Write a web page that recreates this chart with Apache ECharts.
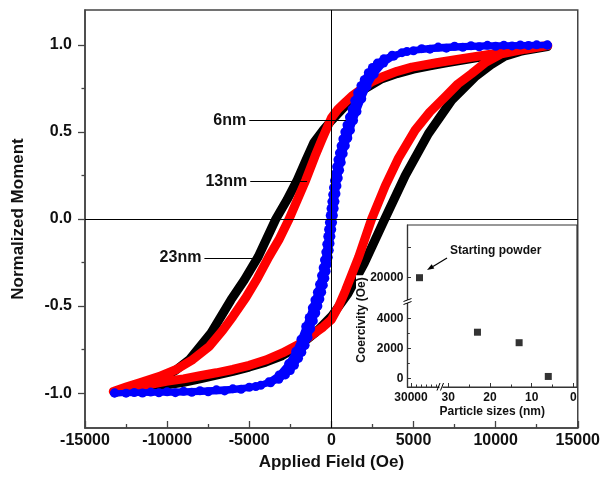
<!DOCTYPE html>
<html><head><meta charset="utf-8">
<script src="https://cdn.jsdelivr.net/npm/echarts@6/dist/echarts.min.js"></script>
<style>html,body{margin:0;padding:0;background:#fff}#c{width:603px;height:478px}</style>
</head><body><div id="c"></div>
<script>
// ---------- data ----------
// [field (Oe), normalized moment]
const black23Down = [[13150,0.99],[12000,0.972],[11000,0.956],[10000,0.943],[9000,0.929],[8000,0.913],[7000,0.897],[6000,0.88],[5000,0.86],[4000,0.835],[3000,0.802],[2000,0.745],[1000,0.665],[500,0.615],[0,0.565],[-500,0.51],[-1060,0.44],[-1560,0.335],[-2070,0.225],[-2700,0.11],[-3380,0.0],[-4450,-0.216],[-5300,-0.35],[-6110,-0.464],[-7320,-0.654],[-8640,-0.807],[-9500,-0.87],[-10500,-0.92],[-11500,-0.952],[-12400,-0.975],[-13200,-0.995]];
const black23Up = [[-13200,-0.997],[-12000,-0.98],[-11000,-0.965],[-10000,-0.952],[-9000,-0.938],[-8000,-0.918],[-7000,-0.897],[-6000,-0.875],[-5000,-0.85],[-4000,-0.822],[-3000,-0.785],[-2000,-0.73],[-1000,-0.655],[0,-0.56],[1000,-0.43],[2000,-0.255],[3250,0.0],[4500,0.25],[5910,0.49],[7320,0.681],[8740,0.815],[9700,0.885],[10560,0.935],[11500,0.962],[12400,0.98],[13150,0.99]];
const red13Down = [[13180,0.996],[12000,0.98],[10960,0.963],[9500,0.943],[7930,0.92],[6400,0.897],[4900,0.872],[4000,0.848],[3080,0.815],[2400,0.785],[1870,0.748],[1300,0.71],[860,0.672],[400,0.63],[0,0.58],[-560,0.46],[-1000,0.36],[-1560,0.223],[-2575,0.0],[-3200,-0.12],[-3800,-0.216],[-4500,-0.34],[-5200,-0.45],[-6000,-0.56],[-6620,-0.64],[-7420,-0.73],[-8440,-0.807],[-9440,-0.864],[-10500,-0.905],[-11670,-0.94],[-12500,-0.965],[-13280,-0.99]];
const red13Up = [[-13280,-0.99],[-12000,-0.965],[-11000,-0.95],[-10060,-0.932],[-9000,-0.918],[-8000,-0.9],[-7000,-0.883],[-6010,-0.864],[-5000,-0.84],[-4000,-0.81],[-2980,-0.769],[-2000,-0.72],[-1160,-0.665],[-500,-0.62],[0,-0.578],[450,-0.5],[860,-0.41],[1670,-0.216],[2450,0.0],[3280,0.19],[4090,0.35],[5100,0.51],[6000,0.615],[6920,0.7],[7700,0.775],[8530,0.834],[9400,0.9],[10350,0.948],[11800,0.975],[13180,0.996]];
const blue6Down = [[13150,0.998],[12000,0.996],[11000,0.994],[10000,0.992],[9000,0.989],[8000,0.986],[7000,0.981],[6000,0.975],[5000,0.966],[4300,0.955],[3700,0.94],[3200,0.92],[2800,0.895],[2500,0.87],[2250,0.84],[2000,0.8],[1800,0.765],[1600,0.725],[1420,0.68],[1260,0.63],[1100,0.585],[950,0.54],[820,0.5],[700,0.46],[590,0.42],[490,0.38],[400,0.34],[320,0.3],[250,0.26],[190,0.22],[130,0.18],[80,0.14],[30,0.1],[-20,0.06],[-70,0.02],[-120,-0.02],[-170,-0.06],[-220,-0.1],[-280,-0.145],[-340,-0.19],[-420,-0.235],[-500,-0.28],[-600,-0.325],[-720,-0.375],[-850,-0.42],[-1000,-0.465],[-1160,-0.51],[-1350,-0.565],[-1560,-0.617],[-1850,-0.69],[-2170,-0.76],[-2600,-0.83],[-3180,-0.895],[-3800,-0.935],[-4600,-0.962],[-5500,-0.978],[-6500,-0.987],[-7500,-0.992],[-8500,-0.995],[-9500,-0.997],[-10500,-0.998],[-11500,-0.999],[-12500,-1.0],[-13200,-1.0]];
const blue6Up = [[-13200,-0.998],[-12000,-0.996],[-11000,-0.994],[-10000,-0.992],[-9000,-0.989],[-8000,-0.986],[-7000,-0.981],[-6000,-0.975],[-5000,-0.966],[-4300,-0.955],[-3700,-0.94],[-3200,-0.92],[-2800,-0.895],[-2500,-0.87],[-2250,-0.84],[-2000,-0.8],[-1800,-0.765],[-1600,-0.725],[-1420,-0.68],[-1260,-0.63],[-1100,-0.585],[-950,-0.54],[-820,-0.5],[-700,-0.46],[-590,-0.42],[-490,-0.38],[-400,-0.34],[-320,-0.3],[-250,-0.26],[-190,-0.22],[-130,-0.18],[-80,-0.14],[-30,-0.1],[20,-0.06],[70,-0.02],[120,0.02],[170,0.06],[220,0.1],[280,0.145],[340,0.19],[420,0.235],[500,0.28],[600,0.325],[720,0.375],[850,0.42],[1000,0.465],[1160,0.51],[1350,0.565],[1560,0.617],[1850,0.69],[2170,0.76],[2600,0.83],[3180,0.895],[3800,0.935],[4600,0.962],[5500,0.978],[6500,0.987],[7500,0.992],[8500,0.995],[9500,0.997],[10500,0.998],[11500,0.999],[12500,1.0],[13150,1.0]];

// main axis ticks
const yMajorTicks = [-1, -0.5, 0, 0.5, 1];
const yMinorTicks = [-0.75, -0.25, 0.25, 0.75];

// inset: coercivity vs particle size
const powderSize = [28300];          // nm (starting powder, broken axis segment)
const powderCoercivity = [20000];    // Oe
const particleSizes = [23, 13, 6];   // nm
const particleCoercivity = [3100, 2400, 150]; // Oe

const insetSizeMajor = [0, 10, 20, 30];
const insetSizeMinor = [5, 15, 25];
const insetPowderMajor = [30000];
const insetPowderMinor = [29000, 28000, 27000, 26000, 25000];
const insetCoerLowMajor = [0, 2000, 4000];
const insetCoerLowMinor = [1000, 3000];
const insetCoerHighTicks = [20000, 22000];
const insetCoerHighLabels = [20000];

// annotations: [label, startField, endField, moment]
const arrowNotes = [['6nm', -5000, 880, 0.567], ['13nm', -4940, -1480, 0.2175], ['23nm', -7730, -4580, -0.223]];

// ---------- chart ----------
const FONT = 'Liberation Sans';
const TXT = '#111';
const AX = '#444';
const plain = (v) => String(v);
const chart = echarts.init(document.getElementById('c'));

function tickOnly(extra) {
  return Object.assign({
    type: 'value', z: 10,
    axisLine: { show: false, onZero: false },
    axisLabel: { show: false },
    splitLine: { show: false },
  }, extra);
}
function nameOnly(extra) {
  return Object.assign({
    type: 'value', min: 0, max: 1, z: 10,
    axisLine: { show: false, onZero: false }, axisTick: { show: false }, axisLabel: { show: false }, splitLine: { show: false },
    nameLocation: 'middle', nameMoveOverlap: false
  }, extra);
}
const boldText = (size) => ({ fontFamily: FONT, fontWeight: 'bold', fontSize: size, color: TXT });

const xRangeLR = { min: -0.89, max: 31.75 };
const xRangeL = { min: 24000, max: 30700 };
const yRangeLow = { min: -553, max: 5247 };
const yRangeHigh = { min: 18513, max: 23513 };

const option = {
  animation: false,
  backgroundColor: '#fff',
  grid: [
    { left: 85, top: 10, right: 24, bottom: 50, show: true, borderColor: AX, borderWidth: 1.5 },
    { left: 407.5, top: 225, width: 169.5, height: 162, show: true, borderColor: '#333', borderWidth: 1.2, backgroundColor: '#fff' },
    { left: 407.5, top: 225, width: 33.5, height: 75 },
    { left: 407.5, top: 300, width: 33.5, height: 87 },
    { left: 441, top: 300, width: 136, height: 87 }
  ],
  xAxis: [
    { type: 'value', gridIndex: 0, position: 'bottom', min: -15000, max: 15000, interval: 5000,
      axisLine: { onZero: false, lineStyle: { color: AX, width: 1.5 } },
      axisTick: { inside: true, length: 7, lineStyle: { color: AX, width: 1.3 } },
      minorTick: { show: true, splitNumber: 2, length: 4, lineStyle: { color: AX, width: 1.3 } },
      axisLabel: Object.assign({ margin: 5, formatter: plain }, boldText(16)),
      splitLine: { show: false },
      name: 'Applied Field (Oe)', nameLocation: 'middle', nameGap: 20, nameTextStyle: boldText(17) },
    nameOnly({ gridIndex: 1, position: 'bottom', name: 'Particle sizes (nm)', nameGap: 19, nameTextStyle: boldText(12) }),
    Object.assign({ gridIndex: 2, inverse: true, show: false, type: 'value', position: 'bottom' }, xRangeL),
    tickOnly(Object.assign({ gridIndex: 3, inverse: true, position: 'bottom',
      axisLine: { show: true, onZero: false, lineStyle: { color: '#333', width: 1.2 } },
      axisTick: { inside: true, length: 4, customValues: insetPowderMajor, lineStyle: { color: '#333' } },
      axisLabel: Object.assign({ show: true, customValues: insetPowderMajor, margin: 5, formatter: plain }, boldText(12)) }, xRangeL)),
    tickOnly(Object.assign({ gridIndex: 3, inverse: true, position: 'bottom',
      axisTick: { inside: true, length: 2.5, customValues: insetPowderMinor, lineStyle: { color: '#333' } } }, xRangeL)),
    tickOnly(Object.assign({ gridIndex: 4, inverse: true, position: 'bottom',
      axisLine: { show: true, onZero: false, lineStyle: { color: '#333', width: 1.2 } },
      axisTick: { inside: true, length: 4, customValues: insetSizeMajor, lineStyle: { color: '#333' } },
      axisLabel: Object.assign({ show: true, customValues: insetSizeMajor, margin: 5, formatter: plain }, boldText(12)) }, xRangeLR)),
    tickOnly(Object.assign({ gridIndex: 4, inverse: true, position: 'bottom',
      axisTick: { inside: true, length: 2.5, customValues: insetSizeMinor, lineStyle: { color: '#333' } } }, xRangeLR))
  ],
  yAxis: [
    { type: 'value', gridIndex: 0, position: 'left', min: -1.2, max: 1.2,
      axisLine: { onZero: false, lineStyle: { color: AX, width: 1.5 } },
      axisTick: { inside: false, length: 7, customValues: yMajorTicks, lineStyle: { color: AX, width: 1.3 } },
      axisLabel: Object.assign({ customValues: yMajorTicks, margin: 13, formatter: (v) => Number(v).toFixed(1) }, boldText(16)),
      splitLine: { show: false },
      name: 'Normalized Moment', nameLocation: 'middle', nameGap: 58, nameTextStyle: boldText(17) },
    tickOnly({ gridIndex: 0, z: 0, position: 'left', min: -1.2, max: 1.2,
      axisTick: { inside: false, length: 3.5, customValues: yMinorTicks, lineStyle: { color: AX, width: 1.3 } } }),
    nameOnly({ gridIndex: 1, position: 'left' }),
    tickOnly(Object.assign({ gridIndex: 2, position: 'left',
      axisLine: { show: true, onZero: false, lineStyle: { color: '#333', width: 1.2 } },
      axisTick: { inside: true, length: 3.5, customValues: insetCoerHighTicks, lineStyle: { color: '#333' } },
      axisLabel: Object.assign({ show: true, customValues: insetCoerHighLabels, margin: 4, formatter: plain }, boldText(12)) }, yRangeHigh)),
    tickOnly(Object.assign({ gridIndex: 3, position: 'left',
      axisLine: { show: true, onZero: false, lineStyle: { color: '#333', width: 1.2 } },
      axisTick: { inside: true, length: 3.5, customValues: insetCoerLowMajor, lineStyle: { color: '#333' } },
      axisLabel: Object.assign({ show: true, customValues: insetCoerLowMajor, margin: 4, formatter: plain }, boldText(12)) }, yRangeLow)),
    tickOnly(Object.assign({ gridIndex: 3, position: 'left',
      axisTick: { inside: true, length: 2.3, customValues: insetCoerLowMinor, lineStyle: { color: '#333' } } }, yRangeLow)),
    Object.assign({ gridIndex: 4, show: false, type: 'value', position: 'left' }, yRangeLow)
  ],
  series: [
    { type: 'line', xAxisIndex: 0, yAxisIndex: 0, data: [[0, 0]], showSymbol: false, lineStyle: { opacity: 0 }, silent: true,
      markLine: { silent: true, symbol: 'none', label: { show: false }, animation: false,
        lineStyle: { color: '#000', width: 1, type: 'solid' },
        data: [{ xAxis: 0 }, { yAxis: 0 }] } },
    { name: '23nm', type: 'line', xAxisIndex: 0, yAxisIndex: 0, data: black23Down.concat(black23Up), showSymbol: false,
      lineStyle: { color: '#000', width: 9, cap: 'round', join: 'round' } },
    { name: '13nm', type: 'line', xAxisIndex: 0, yAxisIndex: 0, data: red13Down.concat(red13Up), showSymbol: false,
      lineStyle: { color: '#ff0000', width: 9, cap: 'round', join: 'round' } },
    { name: '6nm', type: 'line', xAxisIndex: 0, yAxisIndex: 0, data: blue6Down.concat(blue6Up),
      symbol: 'circle', symbolSize: 9, showAllSymbol: true, itemStyle: { color: '#0000ff' },
      lineStyle: { color: '#0000ff', width: 6, join: 'round' } },
    { type: 'line', xAxisIndex: 0, yAxisIndex: 0, data: [[0, 0]], showSymbol: false, lineStyle: { opacity: 0 }, silent: true,
      markLine: { silent: true, animation: false, symbol: ['none', 'arrow'], symbolSize: [0, 8],
        lineStyle: { color: '#000', width: 1.2, type: 'solid' },
        label: Object.assign({ show: true, position: 'start', formatter: '{b}', distance: 3 }, boldText(16)),
        data: arrowNotes.map(n => [{ name: n[0], coord: [n[1], n[3]] }, { coord: [n[2], n[3]] }]) } },
    { type: 'scatter', z: 11, xAxisIndex: 2, yAxisIndex: 3, symbol: 'rect', symbolSize: 7, itemStyle: { color: '#000' },
      data: powderSize.map((s, i) => [s, powderCoercivity[i]]) },
    { type: 'scatter', z: 11, xAxisIndex: 5, yAxisIndex: 6, symbol: 'rect', symbolSize: 7, itemStyle: { color: '#000' },
      data: particleSizes.map((s, i) => [s, particleCoercivity[i]]) }
  ],
  graphic: [
    { type: 'text', x: 362, y: 320, rotation: Math.PI / 2, z: 100,
      style: { text: 'Coercivity (Oe)', font: 'bold 12px "Liberation Sans"', fill: TXT, align: 'center', verticalAlign: 'middle',
        backgroundColor: '#fff', padding: [0, 2, 0, 2] } },
    { type: 'text', left: 450, top: 245, z: 100,
      style: { text: 'Starting powder', font: 'bold 12px "Liberation Sans"', fill: TXT } },
    { type: 'line', z: 100, shape: { x1: 447, y1: 258, x2: 433, y2: 266.4 }, style: { stroke: '#000', lineWidth: 1.2 } },
    { type: 'polygon', z: 100, shape: { points: [[427, 270], [434.3, 268.5], [431.7, 264.3]] }, style: { fill: '#000' } },
    // axis break marks
    { type: 'rect', z: 100, shape: { x: 404, y: 300, width: 7, height: 3 }, style: { fill: '#fff' } },
    { type: 'line', z: 101, shape: { x1: 403.5, y1: 301.5, x2: 411.5, y2: 298.5 }, style: { stroke: '#000', lineWidth: 1 } },
    { type: 'line', z: 101, shape: { x1: 403.5, y1: 304.5, x2: 411.5, y2: 301.5 }, style: { stroke: '#000', lineWidth: 1 } },
    { type: 'rect', z: 100, shape: { x: 439.5, y: 383, width: 3, height: 7 }, style: { fill: '#fff' } },
    { type: 'line', z: 101, shape: { x1: 437, y1: 390.5, x2: 440, y2: 383 }, style: { stroke: '#000', lineWidth: 1 } },
    { type: 'line', z: 101, shape: { x1: 440.5, y1: 390.5, x2: 443.5, y2: 383 }, style: { stroke: '#000', lineWidth: 1 } }
  ]
};
chart.setOption(option);
</script></body></html>
